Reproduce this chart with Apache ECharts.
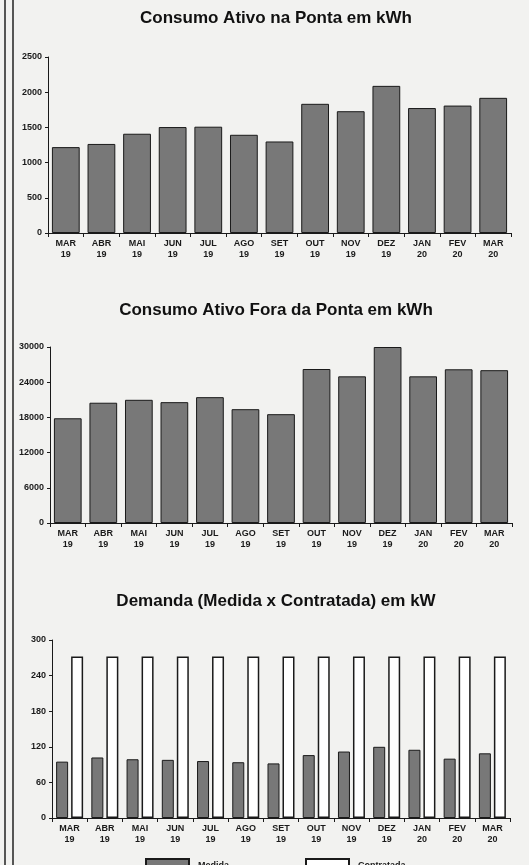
<!DOCTYPE html>
<html>
<head>
<meta charset="utf-8">
<script src="https://cdn.jsdelivr.net/npm/echarts@6/dist/echarts.min.js"></script>
<style>
  html, body { margin: 0; padding: 0; background: #f2f2f0; }
  #main { width: 529px; height: 865px; }
</style>
</head>
<body>
<div id="main"></div>
<script>
// meses / anos do eixo x
const months = ['MAR', 'ABR', 'MAI', 'JUN', 'JUL', 'AGO', 'SET', 'OUT', 'NOV', 'DEZ', 'JAN', 'FEV', 'MAR'];
const years = ['19', '19', '19', '19', '19', '19', '19', '19', '19', '19', '20', '20', '20'];

// Consumo Ativo na Ponta (kWh)
const pontaValues = [1220, 1265, 1410, 1505, 1510, 1395, 1300, 1835, 1730, 2090, 1775, 1810, 1920];
// Consumo Ativo Fora da Ponta (kWh)
const foraPontaValues = [17850, 20500, 21000, 20600, 21450, 19400, 18550, 26250, 25000, 30000, 25000, 26200, 26050];
// Demanda (kW)
const medidaValues = [95, 102, 99, 98, 96, 94, 92, 106, 112, 120, 115, 100, 109];
const contratadaValues = [272, 272, 272, 272, 272, 272, 272, 272, 272, 272, 272, 272, 272];

const categories = months.map((m, i) => m + '\n' + years[i]);

const font = "'Liberation Sans', Arial, sans-serif";
const ink = '#1a1a1a';
const barGray = '#787878';

function xAxisCfg(gridIndex) {
  return {
    type: 'category',
    gridIndex: gridIndex,
    data: categories,
    axisLine: { lineStyle: { color: ink, width: 1 } },
    axisTick: { show: true, length: 4, lineStyle: { color: ink } },
    axisLabel: {
      color: ink,
      fontFamily: font,
      fontWeight: 'bold',
      fontSize: 9,
      lineHeight: 11,
      margin: 5,
      interval: 0
    }
  }
}

function yAxisCfg(gridIndex, max, interval) {
  return {
    type: 'value',
    gridIndex: gridIndex,
    min: 0,
    max: max,
    interval: interval,
    axisLine: { show: true, lineStyle: { color: ink, width: 1 } },
    axisTick: { show: true, length: 3, lineStyle: { color: ink } },
    splitLine: { show: false },
    axisLabel: {
      color: ink,
      fontFamily: font,
      fontWeight: 'bold',
      fontSize: 9,
      margin: 6,
      formatter: function(v) { return String(v) }
    }
  }
}

function titleCfg(text, top) {
  return {
    text: text,
    left: 276,
    top: top,
    padding: 0,
    textAlign: 'center',
    textStyle: {
      fontFamily: font,
      fontWeight: 'bold',
      fontSize: 17,
      color: '#111'
    }
  }
}

let myChart = echarts.init(document.getElementById('main'));

myChart.setOption({
  backgroundColor: '#f2f2f0',
  animation: false,
  title: [
    titleCfg('Consumo Ativo na Ponta em kWh', 10),
    titleCfg('Consumo Ativo Fora da Ponta em kWh', 302),
    titleCfg('Demanda (Medida x Contratada) em kW', 593)
  ],
  grid: [
    { left: 48, top: 57, width: 463, height: 176 },
    { left: 50, top: 347, width: 462, height: 176 },
    { left: 52, top: 640, width: 458, height: 178 }
  ],
  xAxis: [xAxisCfg(0), xAxisCfg(1), xAxisCfg(2)],
  yAxis: [
    yAxisCfg(0, 2500, 500),
    yAxisCfg(1, 30000, 6000),
    yAxisCfg(2, 300, 60)
  ],
  legend: {
    left: 140,
    top: 853,
    itemWidth: 43,
    itemHeight: 14,
    itemGap: 76,
    icon: 'rect',
    data: ['Medida', 'Contratada'],
    textStyle: {
      fontFamily: font,
      fontSize: 9,
      fontWeight: 'bold',
      color: ink,
      padding: [0, 0, 0, 4]
    }
  },
  graphic: [
    // bordas da página digitalizada
    { type: 'line', shape: { x1: 5, y1: 0, x2: 5, y2: 865 }, style: { stroke: '#222', lineWidth: 1.5 } },
    { type: 'line', shape: { x1: 13, y1: 0, x2: 13, y2: 865 }, style: { stroke: '#222', lineWidth: 1.5 } }
  ],
  series: [
    {
      name: 'Ponta',
      type: 'bar',
      xAxisIndex: 0,
      yAxisIndex: 0,
      barWidth: '78%',
      itemStyle: { color: barGray, borderColor: ink, borderWidth: 1 },
      data: pontaValues
    },
    {
      name: 'Fora da Ponta',
      type: 'bar',
      xAxisIndex: 1,
      yAxisIndex: 1,
      barWidth: '78%',
      itemStyle: { color: barGray, borderColor: ink, borderWidth: 1 },
      data: foraPontaValues
    },
    {
      name: 'Medida',
      type: 'bar',
      xAxisIndex: 2,
      yAxisIndex: 2,
      barWidth: 12,
      barGap: '25%',
      itemStyle: { color: barGray, borderColor: ink, borderWidth: 1 },
      data: medidaValues
    },
    {
      name: 'Contratada',
      type: 'bar',
      xAxisIndex: 2,
      yAxisIndex: 2,
      barWidth: 12,
      barGap: '25%',
      itemStyle: { color: '#ffffff', borderColor: ink, borderWidth: 1.5 },
      data: contratadaValues
    }
  ]
});
</script>
</body>
</html>
